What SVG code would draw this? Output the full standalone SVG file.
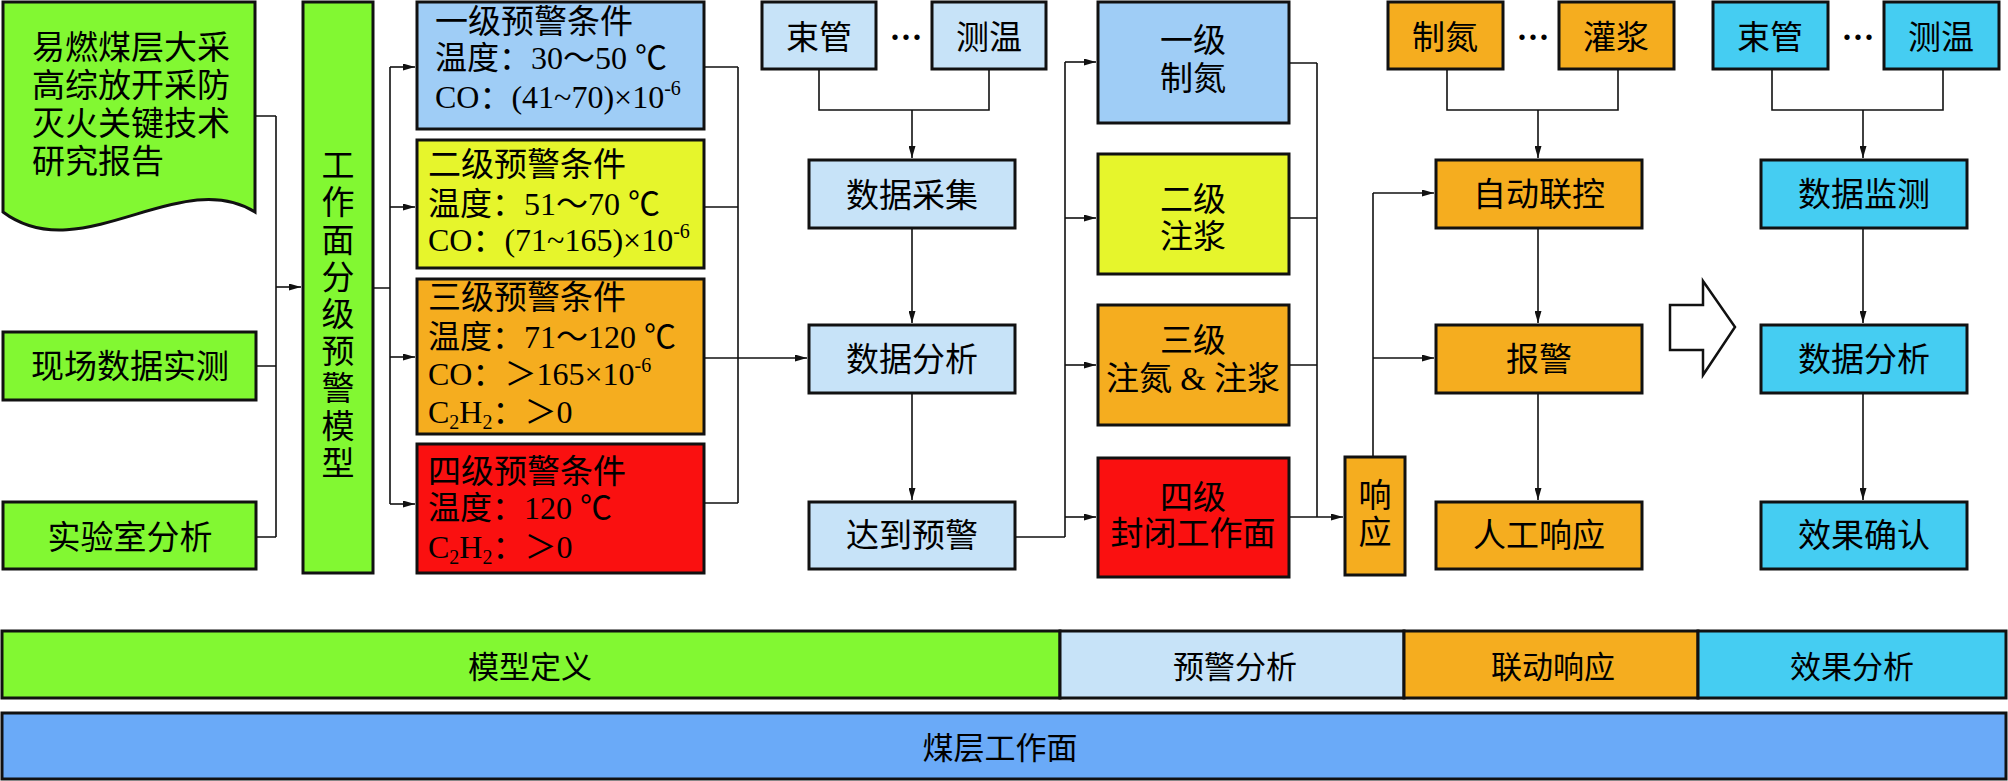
<svg xmlns="http://www.w3.org/2000/svg" width="2008" height="781" viewBox="0 0 2008 781">
<style>
.b{stroke:#111;stroke-width:3}
.gr{fill:#82F832}.lb{fill:#9FCDF6}.ye{fill:#E6F52C}.or{fill:#F5AD1F}.rd{fill:#FA1010}.pb{fill:#C7E3F8}.cy{fill:#45CDF2}.bl{fill:#6AAAF8}
.c{fill:none;stroke:#111;stroke-width:1.6}
text{font-family:"Liberation Serif","Noto Sans CJK SC",serif;font-size:33px;fill:#000}
.m{text-anchor:middle}
.s{font-size:32px}
.bar{font-family:"Noto Sans CJK SC","Liberation Sans",sans-serif;font-size:31px}
</style>
<defs>
<marker id="arr" viewBox="0 0 12 7" refX="12" refY="3.5" markerWidth="12" markerHeight="7" markerUnits="userSpaceOnUse" orient="auto">
<path d="M0,0 L12,3.5 L0,7 Z" fill="#111"/>
</marker>
</defs>
<rect width="2008" height="781" fill="#fff"/>

<g id="connectors" class="c">
<path d="M255,116 H276 M256,366 H276 M256,537 H276 M276,116 V537"/>
<path d="M276,287 H301" marker-end="url(#arr)"/>
<path d="M373,288 H390 M390,67 V504"/>
<path d="M390,67 H415" marker-end="url(#arr)"/>
<path d="M390,207 H415" marker-end="url(#arr)"/>
<path d="M390,357 H415" marker-end="url(#arr)"/>
<path d="M390,504 H415" marker-end="url(#arr)"/>
<path d="M704,67 H738 M704,207 H738 M704,503 H738 M738,67 V503"/>
<path d="M704,358 H807" marker-end="url(#arr)"/>
<path d="M819,69 V110 H989 V69"/>
<path d="M912,110 V158" marker-end="url(#arr)"/>
<path d="M912,228 V323" marker-end="url(#arr)"/>
<path d="M912,393 V500" marker-end="url(#arr)"/>
<path d="M1015,537 H1065 M1065,62 V537"/>
<path d="M1065,62 H1096" marker-end="url(#arr)"/>
<path d="M1065,218 H1096" marker-end="url(#arr)"/>
<path d="M1065,365 H1096" marker-end="url(#arr)"/>
<path d="M1065,517 H1096" marker-end="url(#arr)"/>
<path d="M1289,63 H1317 M1289,218 H1317 M1289,365 H1317 M1317,63 V517"/>
<path d="M1289,517 H1343" marker-end="url(#arr)"/>
<path d="M1373,457 V193"/>
<path d="M1373,193 H1434" marker-end="url(#arr)"/>
<path d="M1373,358 H1434" marker-end="url(#arr)"/>
<path d="M1447,69 V110 H1618 V69"/>
<path d="M1538,110 V158" marker-end="url(#arr)"/>
<path d="M1538,228 V323" marker-end="url(#arr)"/>
<path d="M1538,393 V500" marker-end="url(#arr)"/>
<path d="M1772,69 V110 H1943 V69"/>
<path d="M1863,110 V158" marker-end="url(#arr)"/>
<path d="M1863,228 V323" marker-end="url(#arr)"/>
<path d="M1863,393 V500" marker-end="url(#arr)"/>
</g>

<g id="report">
<path class="b gr" d="M3,2 H255 V212 C180,165 80,270 3,212 Z"/>
<text x="32" y="59">易燃煤层大采</text>
<text x="32" y="97">高综放开采防</text>
<text x="32" y="135">灭火关键技术</text>
<text x="32" y="173">研究报告</text>
</g>
<g id="field">
<rect class="b gr" x="3" y="332" width="253" height="68"/>
<text class="m" x="130" y="378">现场数据实测</text>
</g>
<g id="lab">
<rect class="b gr" x="3" y="502" width="253" height="67"/>
<text class="m" x="130" y="549">实验室分析</text>
</g>
<g id="model">
<rect class="b gr" x="303" y="2" width="70" height="571"/>
<text class="m" x="338" y="177">工</text>
<text class="m" x="338" y="214">作</text>
<text class="m" x="338" y="252">面</text>
<text class="m" x="338" y="289">分</text>
<text class="m" x="338" y="326">级</text>
<text class="m" x="338" y="363">预</text>
<text class="m" x="338" y="400">警</text>
<text class="m" x="338" y="438">模</text>
<text class="m" x="338" y="475">型</text>
</g>

<g id="cond1">
<rect class="b lb" x="417" y="2" width="287" height="127"/>
<text x="435" y="33">一级预警条件</text>
<text class="s" x="435" y="69">温度：30～50 ℃</text>
<text class="s" x="435" y="108">CO：(41~70)×10<tspan font-size="20" dy="-13">-6</tspan></text>
</g>
<g id="cond2">
<rect class="b ye" x="417" y="140" width="287" height="128"/>
<text x="428" y="176">二级预警条件</text>
<text class="s" x="428" y="215">温度：51～70 ℃</text>
<text class="s" x="428" y="251">CO：(71~165)×10<tspan font-size="20" dy="-13">-6</tspan></text>
</g>
<g id="cond3">
<rect class="b or" x="417" y="279" width="287" height="155"/>
<text x="428" y="309">三级预警条件</text>
<text class="s" x="428" y="348">温度：71～120 ℃</text>
<text class="s" x="428" y="385">CO：＞165×10<tspan font-size="20" dy="-13">-6</tspan></text>
<text class="s" x="428" y="423">C<tspan font-size="20" dy="6">2</tspan><tspan dy="-6">H</tspan><tspan font-size="20" dy="6">2</tspan><tspan dy="-6">：＞0</tspan></text>
</g>
<g id="cond4">
<rect class="b rd" x="417" y="444" width="287" height="129"/>
<text x="428" y="483">四级预警条件</text>
<text class="s" x="428" y="519">温度：120 ℃</text>
<text class="s" x="428" y="558">C<tspan font-size="20" dy="6">2</tspan><tspan dy="-6">H</tspan><tspan font-size="20" dy="6">2</tspan><tspan dy="-6">：＞0</tspan></text>
</g>

<g id="tube1">
<rect class="b pb" x="762" y="2" width="114" height="67"/>
<text class="m" x="819" y="49">束管</text>
</g>
<text class="m" x="906" y="48" font-family="Liberation Sans" font-weight="bold">···</text>
<g id="temp1">
<rect class="b pb" x="932" y="2" width="114" height="67"/>
<text class="m" x="989" y="49">测温</text>
</g>
<g id="collect">
<rect class="b pb" x="809" y="160" width="206" height="68"/>
<text class="m" x="912" y="207">数据采集</text>
</g>
<g id="analyze1">
<rect class="b pb" x="809" y="325" width="206" height="68"/>
<text class="m" x="912" y="371">数据分析</text>
</g>
<g id="reach">
<rect class="b pb" x="809" y="502" width="206" height="67"/>
<text class="m" x="912" y="547">达到预警</text>
</g>

<g id="act1">
<rect class="b lb" x="1098" y="2" width="191" height="121"/>
<text class="m" x="1193" y="52">一级</text>
<text class="m" x="1193" y="90">制氮</text>
</g>
<g id="act2">
<rect class="b ye" x="1098" y="154" width="191" height="120"/>
<text class="m" x="1193" y="211">二级</text>
<text class="m" x="1193" y="248">注浆</text>
</g>
<g id="act3">
<rect class="b or" x="1098" y="305" width="191" height="120"/>
<text class="m" x="1193" y="352">三级</text>
<text class="m" x="1193" y="390">注氮 &amp; 注浆</text>
</g>
<g id="act4">
<rect class="b rd" x="1098" y="458" width="191" height="119"/>
<text class="m" x="1193" y="509">四级</text>
<text class="m" x="1193" y="545">封闭工作面</text>
</g>

<g id="respond">
<rect class="b or" x="1345" y="457" width="60" height="118"/>
<text class="m" x="1375" y="507">响</text>
<text class="m" x="1375" y="544">应</text>
</g>
<g id="nitrogen">
<rect class="b or" x="1388" y="2" width="115" height="67"/>
<text class="m" x="1445" y="49">制氮</text>
</g>
<text class="m" x="1533" y="48" font-family="Liberation Sans" font-weight="bold">···</text>
<g id="grout">
<rect class="b or" x="1559" y="2" width="115" height="67"/>
<text class="m" x="1616" y="49">灌浆</text>
</g>
<g id="auto">
<rect class="b or" x="1436" y="160" width="206" height="68"/>
<text class="m" x="1539" y="206">自动联控</text>
</g>
<g id="alarm">
<rect class="b or" x="1436" y="325" width="206" height="68"/>
<text class="m" x="1539" y="371">报警</text>
</g>
<g id="manual">
<rect class="b or" x="1436" y="502" width="206" height="67"/>
<text class="m" x="1539" y="547">人工响应</text>
</g>

<g id="big-arrow">
<path d="M1670,305 H1703 V281 L1735,327 L1703,375 V350 H1670 Z" fill="#fff" stroke="#111" stroke-width="2.5"/>
</g>

<g id="tube2">
<rect class="b cy" x="1713" y="2" width="115" height="67"/>
<text class="m" x="1770" y="49">束管</text>
</g>
<text class="m" x="1858" y="48" font-family="Liberation Sans" font-weight="bold">···</text>
<g id="temp2">
<rect class="b cy" x="1884" y="2" width="115" height="67"/>
<text class="m" x="1941" y="49">测温</text>
</g>
<g id="monitor">
<rect class="b cy" x="1761" y="160" width="206" height="68"/>
<text class="m" x="1864" y="206">数据监测</text>
</g>
<g id="analyze2">
<rect class="b cy" x="1761" y="325" width="206" height="68"/>
<text class="m" x="1864" y="371">数据分析</text>
</g>
<g id="confirm">
<rect class="b cy" x="1761" y="502" width="206" height="67"/>
<text class="m" x="1864" y="547">效果确认</text>
</g>

<g id="phase-model">
<rect class="b gr" x="2" y="631" width="1058" height="67"/>
<text class="m bar" x="530" y="678">模型定义</text>
</g>
<g id="phase-warn">
<rect class="b pb" x="1060" y="631" width="344" height="67"/>
<text class="m bar" x="1235" y="678">预警分析</text>
</g>
<g id="phase-link">
<rect class="b or" x="1404" y="631" width="294" height="67"/>
<text class="m bar" x="1553" y="678">联动响应</text>
</g>
<g id="phase-effect">
<rect class="b cy" x="1698" y="631" width="308" height="67"/>
<text class="m bar" x="1852" y="678">效果分析</text>
</g>
<g id="face">
<rect class="b bl" x="2" y="713" width="2004" height="66"/>
<text class="m bar" x="1000" y="759">煤层工作面</text>
</g>
</svg>
